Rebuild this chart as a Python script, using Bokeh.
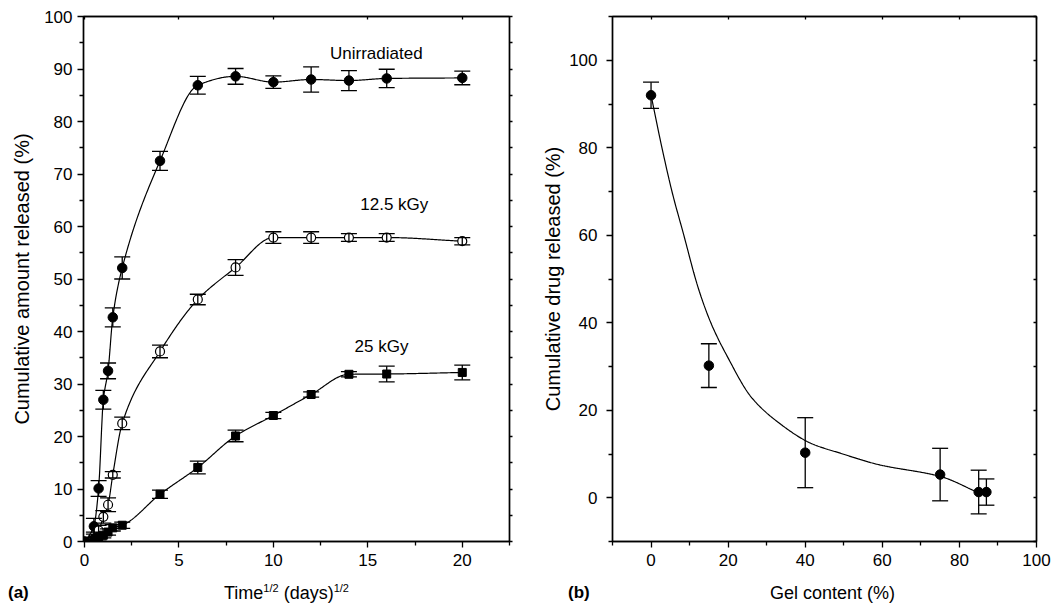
import numpy as np
from bokeh.plotting import figure
from bokeh.models import (ColumnDataSource, Whisker, TeeHead, Label, LinearAxis,
                          Range1d, FixedTicker, Div)
from bokeh.layouts import row, column
from bokeh.embed import file_html
from bokeh.resources import INLINE

FONT = "Liberation Sans"

# ---------------- Panel (a) data ----------------
time_sqrt = [0, 0.5, 0.75, 1, 1.25, 1.5, 2, 4, 6, 8, 10, 12, 14, 16, 20]
rel_unirr = [0, 2.9, 10.1, 27.0, 32.5, 42.7, 52.1, 72.5, 86.9, 88.6, 87.5, 88.0, 87.8, 88.2, 88.3]
err_unirr = [0.3, 1.5, 1.5, 1.8, 1.5, 1.8, 2.1, 1.8, 1.7, 1.5, 1.2, 2.4, 1.9, 1.75, 1.3]
rel_125 = [0, 1.0, 2.1, 4.7, 7.0, 12.7, 22.5, 36.2, 46.1, 52.2, 57.9, 57.9, 57.9, 57.9, 57.2]
err_125 = [0.3, 0.8, 1.0, 1.2, 1.3, 0.6, 1.2, 1.2, 1.0, 1.5, 1.1, 1.1, 0.75, 0.75, 0.7]
rel_25 = [0, 0.3, 0.8, 1.2, 1.8, 2.6, 3.1, 9.0, 14.1, 20.1, 24.0, 28.0, 31.85, 31.9, 32.2]
err_25 = [0.3, 0.5, 0.5, 0.5, 0.6, 0.6, 0.6, 0.8, 1.2, 1.1, 0.6, 0.5, 0.5, 1.5, 1.4]
series_labels = ["Unirradiated", "12.5 kGy", "25 kGy"]

# ---------------- Panel (b) data ----------------
gel_content = [0, 15, 40, 75, 85, 87]
drug_released = [92, 30.2, 10.3, 5.3, 1.3, 1.3]
drug_err = [3, 5, 8, 6, 5, 3]
# fitted curve
fit_gel = [0, 3, 5.6, 8.2, 12.3, 15.6, 19.9, 26, 32.9, 41.6, 49.4, 58.9, 75.3, 84.8]
fit_drug = [92, 79.3, 69.4, 61, 47.8, 39.8, 32.1, 23, 17.3, 12.4, 10.1, 7.6, 4.8, 1.2]


def pchip(x, y, n=400):
    x = np.asarray(x, float)
    y = np.asarray(y, float)
    h = np.diff(x)
    d = np.diff(y) / h
    m = np.zeros_like(y)
    for k in range(1, len(x) - 1):
        if d[k - 1] * d[k] > 0:
            w1 = 2 * h[k] + h[k - 1]
            w2 = h[k] + 2 * h[k - 1]
            m[k] = (w1 + w2) / (w1 / d[k - 1] + w2 / d[k])
    m[0] = d[0]
    m[-1] = d[-1]
    xs = np.linspace(x[0], x[-1], n)
    idx = np.clip(np.searchsorted(x, xs) - 1, 0, len(x) - 2)
    t = (xs - x[idx]) / h[idx]
    h00 = 2 * t**3 - 3 * t**2 + 1
    h10 = t**3 - 2 * t**2 + t
    h01 = -2 * t**3 + 3 * t**2
    h11 = t**3 - t**2
    ys = h00 * y[idx] + h10 * h[idx] * m[idx] + h01 * y[idx + 1] + h11 * h[idx] * m[idx + 1]
    return xs, ys


def style_axes(p, xticks, xminor, yticks, yminor, ylabel, ystand, lab_stand):
    p.xaxis.ticker = FixedTicker(ticks=xticks, minor_ticks=xminor)
    p.yaxis.ticker = FixedTicker(ticks=yticks, minor_ticks=yminor)
    for ax in p.xaxis + p.yaxis:
        ax.axis_line_width = 1.4
        ax.axis_line_color = "black"
        ax.major_tick_line_width = 1.3
        ax.minor_tick_line_width = 1.3
        ax.major_tick_line_color = "black"
        ax.minor_tick_line_color = "black"
        ax.major_tick_in = 0
        ax.major_tick_out = 6
        ax.minor_tick_in = 0
        ax.minor_tick_out = 4
        ax.major_label_text_font = FONT
        ax.major_label_text_font_size = "17px"
        ax.major_label_text_color = "black"
        ax.axis_label_text_font = FONT
        ax.axis_label_text_font_style = "normal"
        ax.axis_label_text_font_size = "20px"
        ax.axis_label_text_color = "black"
    p.xaxis.major_label_standoff = 6
    p.yaxis.major_label_standoff = lab_stand
    p.yaxis.axis_label = ylabel
    p.yaxis.axis_label_standoff = ystand
    # mirrored axes (ticks only)
    top = LinearAxis(ticker=FixedTicker(ticks=xticks, minor_ticks=xminor),
                     major_label_text_font_size="1px", major_label_text_color=None,
                     major_label_standoff=0,
                     major_tick_in=3, major_tick_out=0, minor_tick_in=0, minor_tick_out=0,
                     axis_line_width=1.4, major_tick_line_width=1.3)
    right = LinearAxis(ticker=FixedTicker(ticks=yticks, minor_ticks=yminor),
                       major_label_text_font_size="1px", major_label_text_color=None,
                       major_label_standoff=0,
                       major_tick_in=0, major_tick_out=3, minor_tick_in=0, minor_tick_out=3,
                       axis_line_width=1.4, major_tick_line_width=1.3, minor_tick_line_width=1.3)
    p.add_layout(top, "above")
    p.add_layout(right, "right")
    p.xgrid.visible = False
    p.ygrid.visible = False
    p.outline_line_color = "black"
    p.outline_line_width = 1.4


def errbars(p, xs, ys, es, cap=16):
    src = ColumnDataSource(dict(x=xs, lo=[a - b for a, b in zip(ys, es)],
                                hi=[a + b for a, b in zip(ys, es)]))
    w = Whisker(base="x", lower="lo", upper="hi", source=src, line_color="black",
                line_width=1.3, level="glyph",
                upper_head=TeeHead(size=cap, line_color="black", line_width=1.3),
                lower_head=TeeHead(size=cap, line_color="black", line_width=1.3))
    p.add_layout(w)


# ---------------- Figure (a) ----------------
pa = figure(width=530, height=576, x_range=Range1d(-0.05, 22.5), y_range=Range1d(0, 100),
            output_backend="svg", toolbar_location=None,
            min_border_left=83, min_border_right=21, min_border_top=16, min_border_bottom=35)
style_axes(pa, [0, 5, 10, 15, 20], [2.5, 7.5, 12.5, 17.5, 22.5],
           list(range(0, 101, 10)), list(range(5, 100, 10)),
           "Cumulative amount released (%)", 8, 5)

for ys, es, kind in [(rel_unirr, err_unirr, "fc"), (rel_125, err_125, "oc"), (rel_25, err_25, "sq")]:
    cx, cy = pchip(time_sqrt, ys)
    pa.line(cx, cy, line_color="black", line_width=1.2)
    errbars(pa, time_sqrt, ys, es)
    if kind == "fc":
        pa.scatter(time_sqrt, ys, marker="circle", size=9.5, fill_color="black", line_color="black")
    elif kind == "oc":
        pa.scatter(time_sqrt, ys, marker="circle", size=9, fill_color="white", line_color="black",
                   line_width=1.2)
    else:
        pa.scatter(time_sqrt, ys, marker="square", size=8, fill_color="black", line_color="black")

for txt, x, y in zip(series_labels, [13.0, 14.6, 14.3], [92.9, 64.2, 37.1]):
    pa.add_layout(Label(x=x, y=y, text=txt, text_font=FONT, text_font_size="17px",
                        text_baseline="middle", text_align="left", text_color="black"))

# ---------------- Figure (b) ----------------
pb = figure(width=522, height=576, x_range=Range1d(-10, 100), y_range=Range1d(-10, 110),
            output_backend="svg", toolbar_location=None,
            min_border_left=82, min_border_right=16, min_border_top=16, min_border_bottom=35)
style_axes(pb, [0, 20, 40, 60, 80, 100], [-10, 10, 30, 50, 70, 90],
           [0, 20, 40, 60, 80, 100], [-10, 10, 30, 50, 70, 90, 110],
           "Cumulative drug released (%)", 2, 9)
pb.right[0].major_tick_in = 3
pb.right[0].major_tick_out = 0
pb.right[0].minor_tick_in = 3
pb.right[0].minor_tick_out = 0

fx, fy = pchip(fit_gel, fit_drug)
pb.line(fx, fy, line_color="black", line_width=1.2)
errbars(pb, gel_content, drug_released, drug_err)
pb.scatter(gel_content, drug_released, marker="circle", size=9.5, fill_color="black",
           line_color="black")

# ---------------- bottom titles (HTML text, superscripts) ----------------
base = "position:absolute;top:5px;font-family:'Liberation Sans',Arial,sans-serif;color:black;white-space:nowrap;"
sup = "font-size:11px;vertical-align:7px;line-height:0;"
da = Div(width=530, height=36, margin=0, text=(
    '<div style="position:relative;width:530px;height:36px;">'
    f'<span style="{base}left:8px;font-size:17px;font-weight:bold;">(a)</span>'
    f'<span style="{base}left:224px;font-size:18px;">Time<span style="{sup}">1/2</span>'
    f' (days)<span style="{sup}">1/2</span></span></div>'))
db = Div(width=522, height=36, margin=0, text=(
    '<div style="position:relative;width:522px;height:36px;">'
    f'<span style="{base}left:38px;font-size:17px;font-weight:bold;">(b)</span>'
    f'<span style="{base}left:240px;font-size:18px;">Gel content (%)</span></div>'))

layout = column(row(pa, pb), row(da, db))
open("out.html", "w").write(file_html(layout, INLINE))
